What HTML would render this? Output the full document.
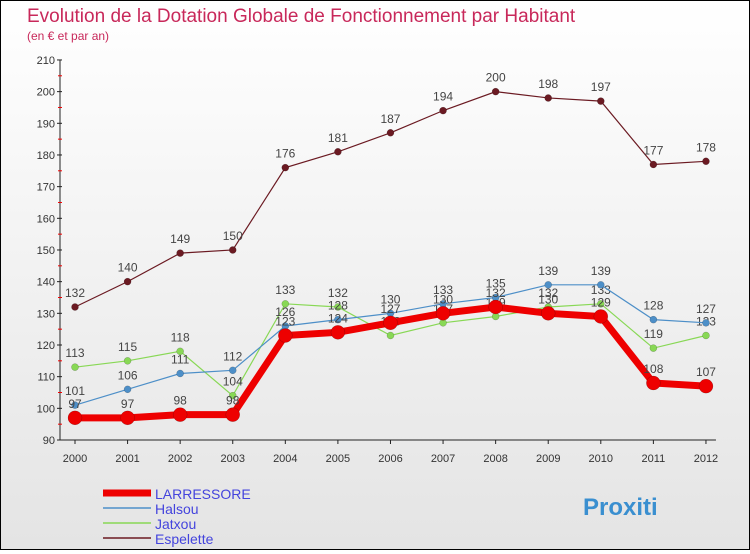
<!DOCTYPE html>
<html><head><meta charset="utf-8"><style>
body{margin:0;width:750px;height:550px;overflow:hidden;font-family:"Liberation Sans",sans-serif}
#wrap{position:absolute;left:0;top:0;width:748px;height:548px;border:1px solid #000;background:linear-gradient(#fff,#e4e4e4)}
</style></head><body>
<div id="wrap">
<svg id="c" width="748" height="548"></svg>
</div>
<script>
const years=["2000","2001","2002","2003","2004","2005","2006","2007","2008","2009","2010","2011","2012"];
const larressore=[97,97,98,98,123,124,127,130,132,130,129,108,107];
const halsou=[101,106,111,112,126,128,130,133,135,139,139,128,127];
const jatxou=[113,115,118,104,133,132,123,127,129,132,133,119,123];
const espelette=[132,140,149,150,176,181,187,194,200,198,197,177,178];
const yTicks=[90,100,110,120,130,140,150,160,170,180,190,200,210];
const NS="http://www.w3.org/2000/svg";
const svg=document.getElementById('c');
const X=i=>74+i*52.58;
const Y=v=>439-(v-90)*3.167;
function el(t,a,p){const e=document.createElementNS(NS,t);for(const k in a)e.setAttribute(k,a[k]);(p||svg).appendChild(e);return e;}
let t=el('text',{x:26,y:21,fill:'#c8285a','font-size':19});t.textContent='Evolution de la Dotation Globale de Fonctionnement par Habitant';

t=el('text',{x:26,y:39,fill:'#c8285a','font-size':12});t.textContent='(en € et par an)';

let ax=el('line',{x1:59,y1:Y(210),x2:59,y2:Y(90),stroke:'#222'});

ax=el('line',{x1:59,y1:Y(90),x2:X(12)+10,y2:Y(90),stroke:'#222'});

yTicks.forEach((v,i)=>{
 el('line',{x1:56,x2:61,y1:Y(v),y2:Y(v),stroke:'#222'});
 if(i<yTicks.length-1)el('line',{x1:57,x2:61,y1:Y(v+5),y2:Y(v+5),stroke:'#e00'});
 const tt=el('text',{x:54,y:Y(v)+4,'text-anchor':'end','font-size':11,fill:'#333'});tt.textContent=v;
 
});
years.forEach((y,i)=>{
 el('line',{x1:X(i),x2:X(i),y1:Y(90),y2:Y(90)+4,stroke:'#222'});
 const tt=el('text',{x:X(i),y:Y(90)+22,'text-anchor':'middle','font-size':11,fill:'#333'});tt.textContent=y;
 
});
function series(name,data,color,w,r){
 const g=el('g',{});
 el('polyline',{points:data.map((v,i)=>X(i)+','+Y(v)).join(' '),fill:'none',stroke:color,'stroke-width':w},g);
 data.forEach((v,i)=>{
  const c=el('circle',{cx:X(i),cy:Y(v),r:r,fill:color,stroke:'rgba(0,0,0,0.3)','stroke-width':0.5},g);
  
  const l=el('text',{x:X(i),y:Y(v)-10,'text-anchor':'middle','font-size':12,fill:'#444'},g);l.textContent=v;
  
 });
}
series('espelette',espelette,'#6b1a22',1.2,3.5);
series('jatxou',jatxou,'#88d855',1.2,3.5);
series('halsou',halsou,'#4d8fc8',1.2,3.5);
series('larressore',larressore,'#ee0000',7,7);
const leg=[['LARRESSORE','#ee0000',7],['Halsou','#4d8fc8',1.5],['Jatxou','#88d855',1.5],['Espelette','#6b1a22',1.5]];
leg.forEach((l,i)=>{
 const g=el('g',{});
 const yy=492+i*15;
 el('line',{x1:102,x2:150,y1:yy,y2:yy,stroke:l[1],'stroke-width':l[2]},g);
 const tt=el('text',{x:154,y:yy+6,'font-size':14,fill:'#4444dd'},g);tt.textContent=l[0];
});
const lg=el('text',{x:582,y:514,'font-size':24,'font-weight':'bold',fill:'#3a8fd0'});
lg.textContent='Proxiti';
</script>
</body></html>
